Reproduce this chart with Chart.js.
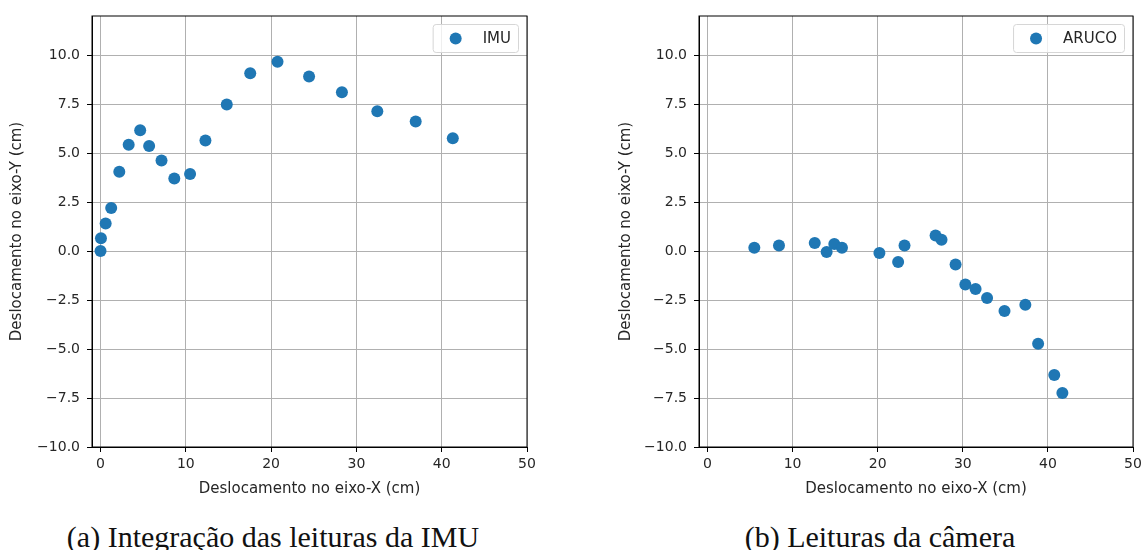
<!DOCTYPE html>
<html>
<head>
<meta charset="utf-8">
<script src="https://cdn.jsdelivr.net/npm/chart.js@4.4.0/dist/chart.umd.min.js"></script>
<style>
  body { margin: 0; background: #fff; }
  #wrap { position: relative; width: 1141px; height: 550px; overflow: hidden; }
  canvas { position: absolute; left: 0; top: 0; }
  .caption {
    position: absolute; top: 522px; line-height: 30px;
    font-family: 'Liberation Serif', serif; font-size: 30px; color: #111;
    white-space: nowrap; transform: translateX(-50%);
  }
</style>
</head>
<body>
<div id="wrap">
  <canvas id="imuChart" width="1141" height="505"></canvas>
  <canvas id="arucoChart" width="1170" height="505"></canvas>
  <div class="caption" style="left:273px">(a) Integração das leituras da IMU</div>
  <div class="caption" style="left:880px">(b) Leituras da câmera</div>
</div>
<script>
// ---- data ----
const imuX = [0, 0.05, 0.6, 1.25, 2.2, 3.3, 4.65, 5.7, 7.15, 8.65, 10.5, 12.3, 14.8, 17.55, 20.75, 24.45, 28.3, 32.45, 36.95, 41.3];
const imuY = [0, 0.66, 1.41, 2.2, 4.05, 5.43, 6.17, 5.37, 4.62, 3.7, 3.94, 5.65, 7.48, 9.08, 9.66, 8.91, 8.11, 7.14, 6.61, 5.76];

const arucoX = [5.5, 8.4, 12.6, 14.0, 14.9, 15.8, 20.2, 22.4, 23.15, 26.8, 27.5, 29.15, 30.3, 31.5, 32.85, 34.9, 37.35, 38.85, 40.75, 41.7];
const arucoY = [0.17, 0.29, 0.41, -0.05, 0.36, 0.17, -0.1, -0.56, 0.29, 0.8, 0.58, -0.68, -1.7, -1.94, -2.4, -3.06, -2.74, -4.73, -6.33, -7.24];

const xTicks = [0, 10, 20, 30, 40, 50];
const yTicks = [-10, -7.5, -5, -2.5, 0, 2.5, 5, 7.5, 10];
const yTickLabels = ['\u221210.0', '\u22127.5', '\u22125.0', '\u22122.5', '0.0', '2.5', '5.0', '7.5', '10.0'];

const BLUE = '#1f77b4';
const TEXT = '#262626';

// legend box drawn inside the plot, top right (matplotlib style)
const innerLegend = {
  id: 'innerLegend',
  afterDraw(chart) {
    const ds = chart.data.datasets[0];
    const { ctx, chartArea } = chart;
    ctx.save();
    ctx.font = '15px "DejaVu Sans"';
    const tw = ctx.measureText(ds.label).width;
    const w = tw + 57, h = 28;
    const x = chartArea.right - 8.5 - w, y = chartArea.top + 8.5;
    ctx.beginPath();
    ctx.roundRect(x, y, w, h, 3);
    ctx.fillStyle = 'rgba(255,255,255,0.8)';
    ctx.fill();
    ctx.strokeStyle = '#d6d6d6';
    ctx.lineWidth = 1;
    ctx.stroke();
    ctx.beginPath();
    ctx.arc(x + 22.5, y + h / 2, 6, 0, Math.PI * 2);
    ctx.fillStyle = ds.backgroundColor;
    ctx.fill();
    ctx.fillStyle = TEXT;
    ctx.textBaseline = 'middle';
    ctx.fillText(ds.label, x + 49.5, y + h / 2 + 1);
    ctx.restore();
  }
};

// full black frame round the axes
const frame = {
  id: 'frame',
  afterDatasetsDraw(chart) {
    const { ctx, chartArea: a } = chart;
    ctx.save();
    ctx.strokeStyle = '#000';
    ctx.lineWidth = 1;
    ctx.strokeRect(a.left, a.top, a.right - a.left, a.bottom - a.top);
    ctx.restore();
  }
};

function makeChart(id, label, xs, ys, pad, yTitlePad) {
  const points = xs.map((x, i) => ({ x: x, y: ys[i] }));
  return new Chart(document.getElementById(id), {
    type: 'scatter',
    data: {
      datasets: [{
        label: label,
        data: points,
        backgroundColor: BLUE,
        borderWidth: 0,
        pointRadius: 6,
        pointHoverRadius: 6
      }]
    },
    options: {
      responsive: false,
      animation: false,
      events: [],
      layout: { padding: pad },
      plugins: { legend: { display: false }, tooltip: { enabled: false } },
      scales: {
        x: {
          min: -1, max: 50,
          afterBuildTicks: s => { s.ticks = xTicks.map(v => ({ value: v })); },
          afterFit: s => { s.height = 58; },
          grid: { color: '#b0b0b0', lineWidth: 1, tickColor: '#000', tickLength: 5 },
          border: { color: '#000', width: 1 },
          ticks: { color: TEXT, font: { family: 'DejaVu Sans', size: 14 }, padding: 4, maxRotation: 0,
                   callback: v => String(v) },
          title: { display: true, text: 'Deslocamento no eixo-X (cm)', color: TEXT,
                   font: { family: 'DejaVu Sans', size: 15 }, padding: { top: 0, bottom: 7 } }
        },
        y: {
          min: -10, max: 12,
          afterBuildTicks: s => { s.ticks = yTicks.map(v => ({ value: v })); },
          afterFit: s => { s.width = 92; },
          grid: { color: '#b0b0b0', lineWidth: 1, tickColor: '#000', tickLength: 5 },
          border: { color: '#000', width: 1 },
          ticks: { color: TEXT, font: { family: 'DejaVu Sans', size: 14 }, padding: 7,
                   callback: v => yTickLabels[yTicks.indexOf(v)] },
          title: { display: true, text: 'Deslocamento no eixo-Y (cm)', color: TEXT,
                   font: { family: 'DejaVu Sans', size: 15 }, padding: { top: yTitlePad, bottom: 0 } }
        }
      }
    },
    plugins: [frame, innerLegend]
  });
}

makeChart('imuChart', 'IMU', imuX, imuY, { left: 0, right: 614, top: 16, bottom: 0 }, 8);
// canvas is wider than the window so the last x label can hang over the edge like the original
makeChart('arucoChart', 'ARUCO', arucoX, arucoY, { left: 607, right: 37, top: 16, bottom: 0 }, 10);
</script>
</body>
</html>
